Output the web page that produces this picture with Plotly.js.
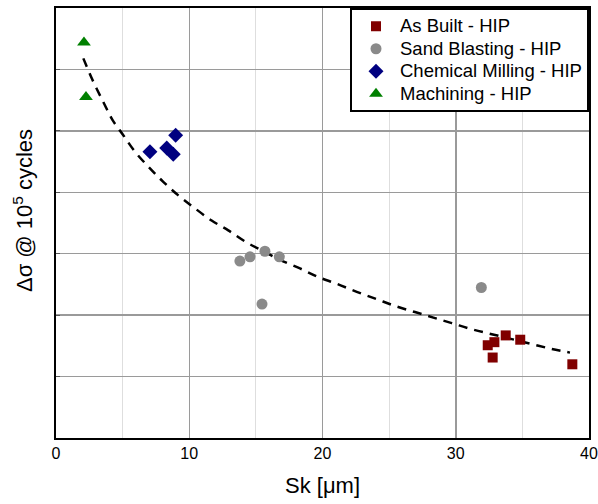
<!DOCTYPE html>
<html><head><meta charset="utf-8">
<script src="https://cdn.plot.ly/plotly-3.0.1.min.js"></script>
<style>html,body{margin:0;padding:0;background:#fff;}#chart{width:598px;height:504px;}</style>
</head><body><div id="chart"></div>
<script>
// As Built - HIP
const asBuiltX = [32.4, 32.9, 32.77, 33.75, 34.84, 38.75];
const asBuiltY = [1.51, 1.56, 1.31, 1.67, 1.60, 1.20];
// Sand Blasting - HIP
const sandX = [13.8, 14.56, 15.68, 16.76, 15.46, 31.92];
const sandY = [2.88, 2.95, 3.04, 2.95, 2.18, 2.45];
// Chemical Milling - HIP
const chemX = [7.05, 8.31, 8.8, 8.98];
const chemY = [4.66, 4.72, 4.62, 4.93];
// Machining - HIP
const machX = [2.1, 2.25];
const machY = [6.44, 5.55];
// Trend line
const fitX = [2.05, 2.80, 3.55, 4.26, 5.05, 5.93, 7.05, 8.05, 9.18, 10.30, 11.68, 12.93, 14.18, 15.56, 16.81, 18.31, 19.69, 21.07, 22.57, 24.07, 25.44, 26.94, 28.32, 29.70, 31.20, 32.70, 34.20, 35.70, 37.20, 38.57];
const fitY = [6.18, 5.80, 5.47, 5.17, 4.93, 4.66, 4.39, 4.17, 3.95, 3.76, 3.54, 3.38, 3.20, 3.04, 2.90, 2.76, 2.62, 2.51, 2.38, 2.26, 2.15, 2.05, 1.96, 1.87, 1.77, 1.69, 1.61, 1.53, 1.45, 1.39];
const xTicks = [0, 10, 20, 30, 40];
const seriesNames = ['As Built - HIP', 'Sand Blasting - HIP', 'Chemical Milling - HIP', 'Machining - HIP'];

const font = 'Liberation Sans, Arial, sans-serif';
const big = s => '<span style="font-size:18.5px">' + s + '</span>';
const traces = [
  {x: fitX, y: fitY, mode: 'lines', line: {color: '#000', width: 2.5, dash: '9px,7px', shape: 'spline'}, showlegend: false, hoverinfo: 'skip'},
  {x: asBuiltX, y: asBuiltY, mode: 'markers', name: big(seriesNames[0]), marker: {symbol: 'square', color: '#800000', size: 10}},
  {x: sandX, y: sandY, mode: 'markers', name: big(seriesNames[1]), marker: {symbol: 'circle', color: '#8a8a8a', size: 11}},
  {x: chemX, y: chemY, mode: 'markers', name: big(seriesNames[2]), marker: {symbol: 'diamond', color: '#000080', size: 11.5}},
  {x: machX, y: machY, mode: 'markers', name: big(seriesNames[3]), marker: {symbol: 'triangle-up', color: '#008000', size: 12}}
];
const layout = {
  width: 598, height: 504,
  margin: {l: 56, r: 9, t: 8, b: 66},
  paper_bgcolor: '#fff', plot_bgcolor: '#fff',
  font: {family: font, color: '#000', size: 16},
  showlegend: true,
  legend: {x: 1, y: 1, xanchor: 'right', yanchor: 'top', bgcolor: '#fff', bordercolor: '#000', borderwidth: 2,
           font: {family: font, size: 15, color: '#000'}, tracegroupgap: 0, itemwidth: 38},
  xaxis: {range: [0, 40], tickvals: xTicks, ticktext: xTicks.map(String), showgrid: true, gridcolor: '#9a9a9a', gridwidth: 1.5,
          minor: {dtick: 5, tick0: 0, showgrid: true, gridcolor: '#dedede', gridwidth: 1},
          zeroline: false, showline: true, linecolor: '#000', linewidth: 2, mirror: true, ticks: '',
          tickfont: {family: font, size: 16}, title: {text: 'Sk [μm]', font: {family: font, size: 22}, standoff: 16}},
  yaxis: {range: [0, 7], dtick: 1, tick0: 0, showticklabels: false, showgrid: true, gridcolor: '#9a9a9a', gridwidth: 1.5,
          zeroline: false, showline: true, linecolor: '#000', linewidth: 2, mirror: true, ticks: 'inside', ticklen: 4, tickcolor: '#555'},
  annotations: [{text: 'Δσ @ 10<sup>5</sup> cycles', xref: 'paper', yref: 'paper', x: -0.062, y: 0.53,
                 xanchor: 'center', yanchor: 'middle', textangle: -90, showarrow: false, font: {family: font, size: 22, color: '#000'}}]
};
Plotly.newPlot('chart', traces, layout, {displayModeBar: false, staticPlot: true});
</script>
</body></html>
